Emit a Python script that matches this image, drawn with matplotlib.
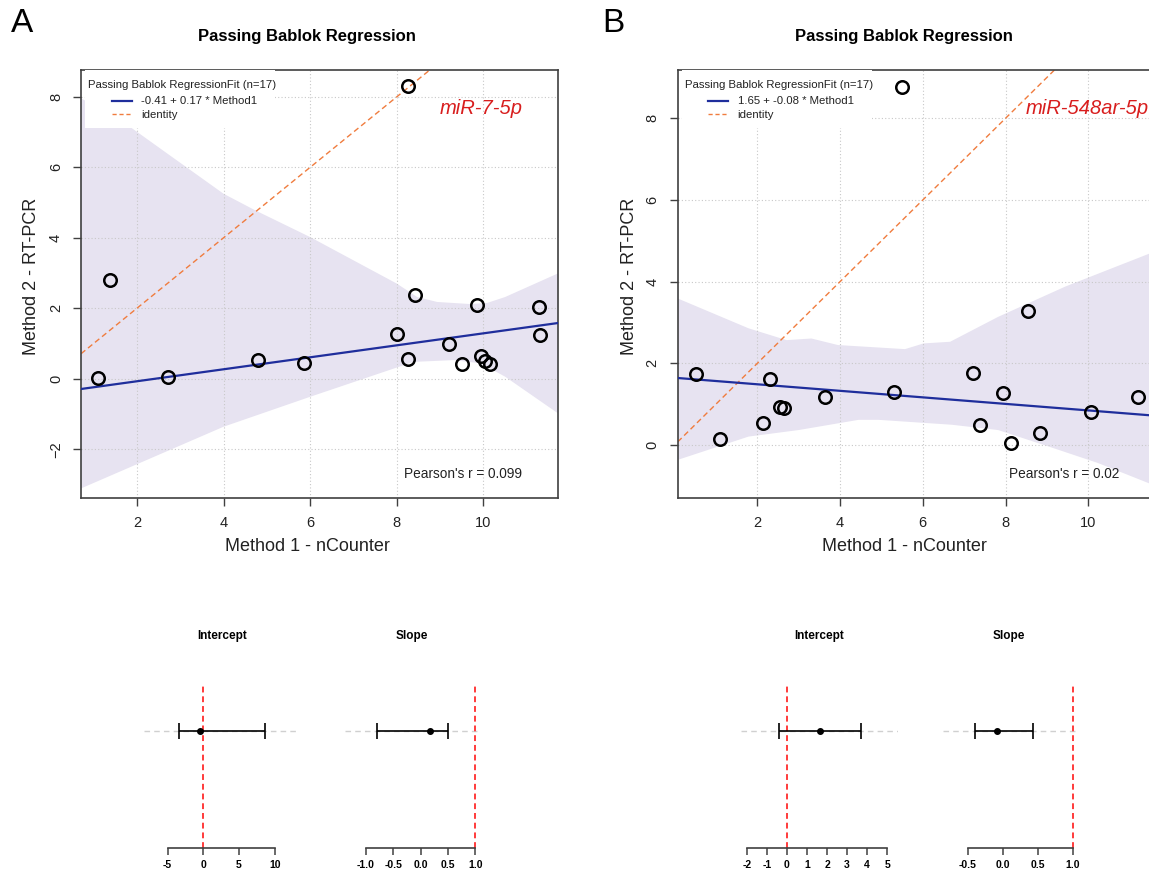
import numpy as np
import matplotlib
matplotlib.use('Agg')
import matplotlib.pyplot as plt
from matplotlib.patches import Rectangle
from matplotlib.lines import Line2D

plt.rcParams['font.family'] = ['Liberation Sans', 'DejaVu Sans']

W, H = 1149, 872

# ---- panel A : miR-7-5p ----
a_method1 = [1.11, 1.37, 2.71, 4.80, 5.85, 8.00, 8.25, 8.26, 8.43, 9.20, 9.51, 9.84, 9.94, 10.03, 10.14, 11.27, 11.31]
a_method2 = [0.03, 2.80, 0.06, 0.53, 0.45, 1.26, 0.57, 8.31, 2.37, 0.99, 0.42, 2.08, 0.64, 0.50, 0.41, 2.04, 1.24]
a_fit = (-0.41, 0.17)
a_band_hi_x = [0.71, 1.85, 2.77, 4.00, 4.73, 6.00, 8.00, 8.47, 8.93, 9.70, 10.08, 10.50, 11.72]
a_band_hi_y = [7.96, 7.14, 6.33, 5.25, 4.78, 4.02, 2.70, 2.32, 2.18, 2.12, 2.15, 2.32, 2.99]
a_band_lo_x = [0.71, 4.00, 6.00, 8.00, 8.39, 9.31, 9.93, 10.50, 11.72]
a_band_lo_y = [-3.11, -1.36, -0.51, 0.32, 0.48, 0.53, 0.44, 0.06, -0.98]
a_intercept_ci = (-3.46, -0.41, 8.68)
a_slope_ci = (-0.80, 0.17, 0.51)
a_pearson = '0.099'
a_name = 'miR-7-5p'

# ---- panel B : miR-548ar-5p ----
b_method1 = [0.51, 1.10, 2.15, 2.32, 2.55, 2.65, 3.64, 5.30, 5.50, 7.22, 7.38, 7.93, 8.12, 8.53, 8.84, 10.06, 11.19]
b_method2 = [1.74, 0.15, 0.54, 1.61, 0.93, 0.90, 1.17, 1.30, 8.77, 1.76, 0.50, 1.27, 0.05, 3.29, 0.29, 0.81, 1.17]
b_fit = (1.65, -0.08)
b_band_hi_x = [0.08, 1.79, 2.71, 3.31, 3.95, 4.60, 5.57, 6.02, 6.66, 7.82, 9.44, 11.63]
b_band_hi_y = [3.59, 2.86, 2.57, 2.61, 2.45, 2.41, 2.35, 2.49, 2.53, 3.14, 3.88, 4.75]
b_band_lo_x = [0.08, 1.79, 3.00, 4.45, 4.93, 6.70, 7.82, 9.03, 10.24, 11.63]
b_band_lo_y = [-0.36, 0.21, 0.37, 0.62, 0.62, 0.50, 0.37, -0.03, -0.44, -1.00]
b_intercept_ci = (-0.40, 1.65, 3.70)
b_slope_ci = (-0.395, -0.08, 0.43)
b_pearson = '0.02'
b_name = 'miR-548ar-5p'

BAND = '#E7E3F1'
BLUE = '#1F2E9C'
ORANGE = '#F07C3E'
RED = '#D81E1E'
SPINE = '#404040'

fig = plt.figure(figsize=(W / 100, H / 100), dpi=100)


def add_ax(box):
    l, t, r, b = box
    return fig.add_axes([l / W, 1 - b / H, (r - l) / W, (b - t) / H])


def ftext(x, y, s, **kw):
    return fig.text(x / W, 1 - y / H, s, **kw)


def scatter_panel(box, xlim, ylim, yticks, x, y, fit, hx, hy, lx, ly, n):
    ax = add_ax(box)
    poly_x = np.concatenate([hx, lx[::-1]])
    poly_y = np.concatenate([hy, ly[::-1]])
    ax.fill(poly_x, poly_y, color=BAND, lw=0, zorder=0.3)
    ax.grid(True, linestyle=(0, (1, 2)), color='#c8c8c8', linewidth=0.8)
    ax.set_axisbelow(True)
    ax.axline((0, 0), slope=1, color=ORANGE, lw=1.0, ls=(0, (4, 2.5)), zorder=2)
    ax.axline((0, fit[0]), slope=fit[1], color=BLUE, lw=1.6, zorder=3)
    ax.plot(x, y, 'o', mfc='none', mec='black', ms=9, mew=1.8, zorder=5)
    ax.set_xlim(xlim)
    ax.set_ylim(ylim)
    ax.set_xticks([2, 4, 6, 8, 10])
    ax.set_yticks(yticks)
    ax.tick_params(direction='out', length=6, width=1, color=SPINE, labelsize=10.5,
                   labelcolor='#222222', pad=7)
    for lbl in ax.get_yticklabels():
        lbl.set_rotation(90)
        lbl.set_va('center')
    for sp in ax.spines.values():
        sp.set_color(SPINE)
        sp.set_linewidth(1.2)

    # legend drawn in pixel offsets from the top-left corner of the plot box
    l, t, r, b = box

    def fx(dx):
        return dx / (r - l)

    def fy(dy):
        return 1 - dy / (b - t)

    ax.add_patch(Rectangle((fx(4), fy(58)), fx(190), 58 / (b - t), transform=ax.transAxes,
                           facecolor='white', edgecolor='none', zorder=4))
    ax.text(fx(7.3), fy(15), f'Passing Bablok RegressionFit (n={n})', transform=ax.transAxes,
            fontsize=8.2, va='center', ha='left', color='#222222', zorder=6)
    ax.add_line(Line2D([fx(30.7), fx(50.7)], [fy(30.7)] * 2, transform=ax.transAxes,
                       color=BLUE, lw=1.6, zorder=6))
    ax.add_line(Line2D([fx(30.7), fx(50.7)], [fy(44.5)] * 2, transform=ax.transAxes,
                       color=ORANGE, lw=1.0, ls=(0, (3, 2)), zorder=6))
    ax.text(fx(60), fy(31.5), f'{fit[0]:.2f} + {fit[1]:.2f} * Method1', transform=ax.transAxes,
            fontsize=8.2, va='center', ha='left', color='#222222', zorder=6)
    ax.text(fx(60), fy(45), 'identity', transform=ax.transAxes,
            fontsize=8.2, va='center', ha='left', color='#222222', zorder=6)
    return ax


def ci_panel(box, xlim, ticks, ci, ref, fmt, title, title_x):
    ax = add_ax(box)
    ax.axhline(0, color='#d0d0d0', lw=1.0, ls=(0, (4, 3)), zorder=1)
    ax.axvline(ref, color='#ff3b3b', lw=1.4, ls=(0, (3, 2)), zorder=2)
    lo, est, hi = ci
    ax.errorbar([est], [0], xerr=[[est - lo], [hi - est]], fmt='o', color='black',
                ms=4, elinewidth=1.2, capsize=5.5, capthick=1.2, zorder=3)
    ax.set_xlim(xlim)
    ax.set_ylim(-1.27, 0.5)
    ax.set_yticks([])
    ax.set_xticks(ticks)
    ax.set_xticklabels([fmt % v for v in ticks], fontsize=7.5, fontweight='bold')
    ax.tick_params(axis='x', direction='out', length=5, width=1.1, color=SPINE, pad=4)
    for s in ['top', 'left', 'right']:
        ax.spines[s].set_visible(False)
    ax.spines['bottom'].set_bounds(ticks[0], ticks[-1])
    ax.spines['bottom'].set_color(SPINE)
    ax.spines['bottom'].set_linewidth(1.2)
    ftext(title_x, 636, title, fontsize=8.5, fontweight='bold', ha='center', va='center')
    return ax


# scatter panels
boxA = (81, 70, 558, 498.3)
boxB = (677.7, 70, 1155.9, 498.3)
scatter_panel(boxA, (0.71, 11.72), (-3.39, 8.76), [-2, 0, 2, 4, 6, 8],
              a_method1, a_method2, a_fit, a_band_hi_x, a_band_hi_y, a_band_lo_x, a_band_lo_y,
              len(a_method1))
scatter_panel(boxB, (0.08, 11.63), (-1.30, 9.18), [0, 2, 4, 6, 8],
              b_method1, b_method2, b_fit, b_band_hi_x, b_band_hi_y, b_band_lo_x, b_band_lo_y,
              len(b_method1))

for cx, lx, px, name, r_txt, ylx in [(307, 439.5, 404.3, a_name, a_pearson, 32),
                                     (904, 1026, 1009.3, b_name, b_pearson, 629)]:
    ftext(cx, 37, 'Passing Bablok Regression', fontsize=12, fontweight='bold',
          ha='center', va='center')
    ftext(cx, 546.7, 'Method 1 - nCounter', fontsize=13, ha='center', va='center', color='#222222')
    ftext(ylx, 276, 'Method 2 - RT-PCR', fontsize=13, ha='center', va='center',
          rotation=90, color='#222222')
    ftext(lx, 109, name, fontsize=14.5, style='italic', color=RED, ha='left', va='center')
    ftext(px, 474, f"Pearson's r = {r_txt}", fontsize=9.8, ha='left', va='center', color='#222222')

ftext(22.5, 24, 'A', fontsize=24, ha='center', va='center')
ftext(613.5, 24, 'B', fontsize=24, ha='center', va='center')

# intercept / slope panels
ci_panel((144, 685, 300, 847.7), (-8.32, 13.55), [-5, 0, 5, 10], a_intercept_ci, 0, '%d',
         'Intercept', 221.7)
ci_panel((345.3, 685, 480.7, 847.7), (-1.38, 1.10), [-1.0, -0.5, 0.0, 0.5, 1.0], a_slope_ci, 1,
         '%.1f', 'Slope', 412)
ci_panel((740.7, 685, 898.3, 847.7), (-2.30, 5.55), [-2, -1, 0, 1, 2, 3, 4, 5], b_intercept_ci, 0,
         '%d', 'Intercept', 819)
ci_panel((943.3, 685, 1076.7, 847.7), (-0.85, 1.06), [-0.5, 0.0, 0.5, 1.0], b_slope_ci, 1,
         '%.1f', 'Slope', 1009.3)

fig.savefig('out.png', dpi=100)
